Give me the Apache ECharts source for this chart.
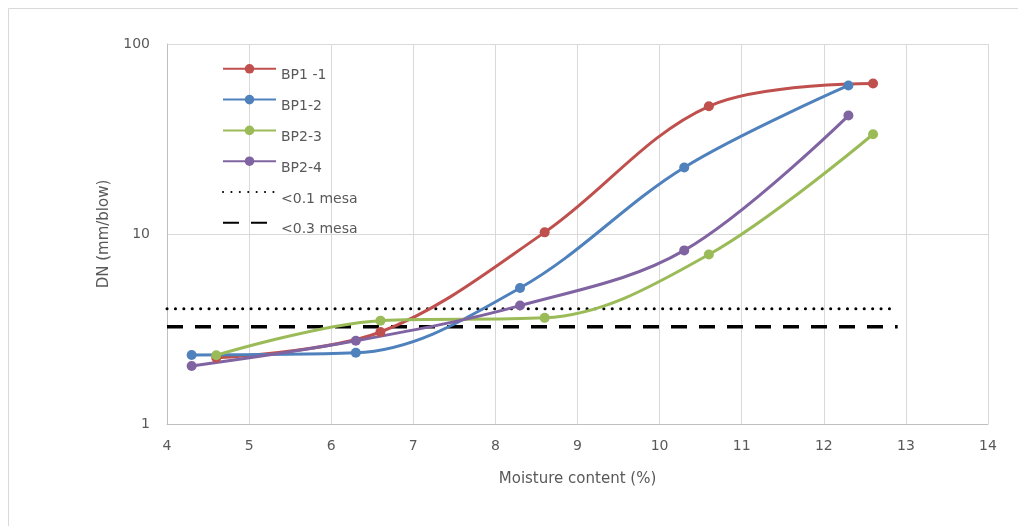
<!DOCTYPE html>
<html>
<head>
<meta charset="utf-8">
<script src="https://cdn.jsdelivr.net/npm/echarts@6/dist/echarts.min.js"></script>
<style>
html,body{margin:0;padding:0;background:#fff;}
#c{width:1018px;height:526px;}
</style>
</head>
<body>
<div id="c"></div>
<script>
const seriesNames = ['BP1 -1', 'BP1-2', 'BP2-3', 'BP2-4', '<0.1 mesa', '<0.3 mesa'];
const bp11 = [[4.6, 2.23], [6.6, 3.05], [8.6, 10.2], [10.6, 47], [12.6, 62]];
const bp12 = [[4.3, 2.31], [6.3, 2.37], [8.3, 5.2], [10.3, 22.4], [12.3, 60.5]];
const bp23 = [[4.6, 2.3], [6.6, 3.5], [8.6, 3.62], [10.6, 7.8], [12.6, 33.5]];
const bp24 = [[4.3, 2.02], [6.3, 2.74], [8.3, 4.2], [10.3, 8.2], [12.3, 42]];
const mesa01 = [[4, 4.04], [12.9, 4.04]];
const mesa03 = [[4, 3.25], [12.9, 3.25]];
const colors = ['#c0504d', '#4f81bd', '#9bbb59', '#8064a2'];

const chart = echarts.init(document.getElementById('c'));
const txt = '#595959';
const font = 'DejaVu Sans';
function curve(name, data, color) {
  return {
    name, type: 'line', data, smooth: 0.35,
    symbol: 'circle', symbolSize: 10,
    itemStyle: { color },
    lineStyle: { color, width: 3 },
    z: 3
  };
}
chart.setOption({
  animation: false,
  backgroundColor: '#fff',
  graphic: [{
    type: 'rect', shape: { x: 8.5, y: 8.5, width: 1100, height: 600 },
    style: { fill: 'none', stroke: '#d9d9d9', lineWidth: 1 }, silent: true
  }],
  grid: { left: 167, right: 30, top: 44, bottom: 102 },
  legend: {
    orient: 'vertical', left: 217, top: 59,
    itemWidth: 53, itemHeight: 12, itemGap: 12,
    formatter: function (n) { return '{a|' + n + '}'; },
    textStyle: {
      color: txt, fontSize: 14, fontFamily: font,
      rich: { a: { color: txt, fontSize: 14, fontFamily: font, padding: [14, 0, 0, 0] } }
    },
    data: [
      seriesNames[0], seriesNames[1], seriesNames[2], seriesNames[3],
      { name: seriesNames[4], itemStyle: { opacity: 0 } },
      { name: seriesNames[5], itemStyle: { opacity: 0 } }
    ]
  },
  xAxis: {
    type: 'value', min: 4, max: 14, interval: 1,
    name: 'Moisture content (%)', nameLocation: 'middle', nameGap: 48,
    nameTextStyle: { color: txt, fontSize: 15, fontFamily: font },
    axisLine: { show: true, lineStyle: { color: '#bfbfbf', width: 1 } },
    axisTick: { show: false },
    axisLabel: { color: txt, fontSize: 14, fontFamily: font, margin: 15 },
    splitLine: { show: true, lineStyle: { color: '#d9d9d9', width: 1 } }
  },
  yAxis: {
    type: 'log', logBase: 10, min: 1, max: 100,
    name: 'DN (mm/blow)', nameLocation: 'middle', nameGap: 55,
    nameTextStyle: { color: txt, fontSize: 15, fontFamily: font },
    axisLine: { show: true, lineStyle: { color: '#bfbfbf', width: 1 } },
    axisTick: { show: false },
    minorTick: { show: false },
    axisLabel: { color: txt, fontSize: 14, fontFamily: font, margin: 17 },
    splitLine: { show: true, lineStyle: { color: '#d9d9d9', width: 1 } }
  },
  series: [
    curve(seriesNames[0], bp11, colors[0]),
    curve(seriesNames[1], bp12, colors[1]),
    curve(seriesNames[2], bp23, colors[2]),
    curve(seriesNames[3], bp24, colors[3]),
    {
      name: seriesNames[4], type: 'line', data: mesa01, symbol: 'none',
      itemStyle: { color: '#000' },
      lineStyle: { color: '#000', width: 3, type: [0.1, 8.3], cap: 'round' }, z: 2
    },
    {
      name: seriesNames[5], type: 'line', data: mesa03, symbol: 'none',
      itemStyle: { color: '#000' },
      lineStyle: { color: '#000', width: 3.5, type: [16, 12], cap: 'butt' }, z: 2
    }
  ]
});
</script>
</body>
</html>
